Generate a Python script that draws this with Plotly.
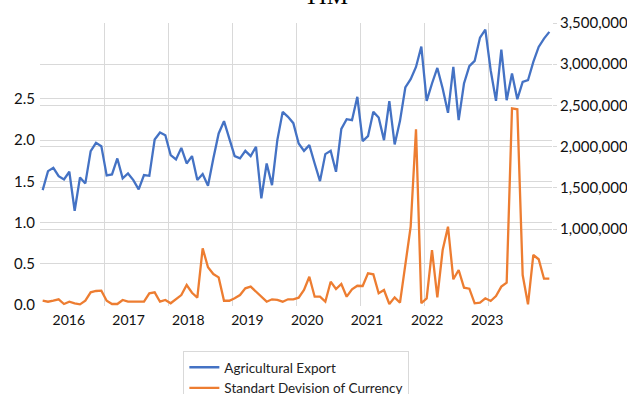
import plotly.graph_objects as go

# ---- data (monthly, 2016-2023) ----
months = [f"{y}-{m:02d}" for y in range(2016, 2024) for m in range(1, 13)]

agri_export = [
    1473000, 1703000, 1743000, 1642000, 1602000, 1695000, 1222000, 1627000, 1554000, 1945000, 2046000, 2006000,
    1651000, 1663000, 1857000, 1615000, 1675000, 1594000, 1481000, 1655000, 1646000, 2087000, 2172000, 2139000,
    1897000, 1845000, 1985000, 1796000, 1885000, 1594000, 1667000, 1525000, 1857000, 2160000, 2309000, 2099000,
    1885000, 1857000, 1949000, 1885000, 1998000, 1372000, 1796000, 1533000, 2079000, 2422000, 2361000, 2285000,
    2039000, 1949000, 2018000, 1796000, 1582000, 1909000, 1949000, 1695000, 2216000, 2333000, 2321000, 2604000,
    2067000, 2127000, 2422000, 2354000, 2079000, 2552000, 2027000, 2313000, 2718000, 2818000, 2967000, 3214000,
    2555000, 2766000, 2955000, 2705000, 2410000, 2967000, 2321000, 2766000, 2976000, 3040000, 3323000, 3420000,
    2927000, 2555000, 3178000, 2564000, 2887000, 2576000, 2786000, 2806000, 3028000, 3210000, 3311000, 3392000,
]

currency_sd = [
    0.052, 0.040, 0.052, 0.069, 0.012, 0.040, 0.021, 0.008, 0.052, 0.154, 0.170, 0.174,
    0.052, 0.012, 0.012, 0.061, 0.040, 0.040, 0.040, 0.040, 0.142, 0.154, 0.040, 0.061,
    0.021, 0.069, 0.121, 0.243, 0.149, 0.089, 0.688, 0.458, 0.376, 0.335, 0.052, 0.052,
    0.081, 0.121, 0.202, 0.223, 0.162, 0.101, 0.040, 0.069, 0.061, 0.040, 0.069, 0.069,
    0.089, 0.182, 0.343, 0.101, 0.101, 0.040, 0.283, 0.194, 0.255, 0.101, 0.190, 0.234,
    0.231, 0.385, 0.372, 0.142, 0.182, 0.012, 0.093, 0.028, 0.506, 0.950, 2.132, 0.021,
    0.081, 0.667, 0.093, 0.667, 0.950, 0.312, 0.425, 0.210, 0.198, 0.021, 0.028, 0.081,
    0.049, 0.109, 0.223, 0.271, 2.387, 2.375, 0.364, 0.008, 0.607, 0.555, 0.319, 0.319,
]

year_labels = ["2016", "2017", "2018", "2019", "2020", "2021", "2022", "2023"]
year_label_pos = [4.9, 16.1, 27.3, 38.4, 49.6, 60.8, 72.1, 83.35]

left_ticks = [0.0, 0.5, 1.0, 1.5, 2.0, 2.5]
right_ticks = [1000000, 1500000, 2000000, 2500000, 3000000, 3500000]

idx = list(range(len(months)))
grid_x = [12 * k - 0.5 for k in range(1, 8)]

FONT = "Lato, 'Liberation Sans', Arial, sans-serif"
GRID = "#d9d9d9"

fig = go.Figure()
fig.add_trace(go.Scatter(
    x=idx, y=agri_export, name="Agricultural Export", mode="lines",
    line=dict(color="#4472C4", width=2.3), yaxis="y2", text=months,
))
fig.add_trace(go.Scatter(
    x=idx, y=currency_sd, name="Standart Devision of Currency", mode="lines",
    line=dict(color="#ED7D31", width=2.3), yaxis="y", text=months,
))

xr = [-0.5, len(months) - 0.5]
fig.update_layout(
    width=627, height=394,
    margin=dict(l=40, r=75, t=23, b=88, autoexpand=False),
    paper_bgcolor="white", plot_bgcolor="white",
    showlegend=True,
    legend=dict(
        x=0.28, y=-0.159, xanchor="left", yanchor="top",
        bordercolor=GRID, borderwidth=1,
        font=dict(family=FONT, size=13.5, color="#222"),
        bgcolor="white",
    ),
    xaxis=dict(
        range=xr, tickmode="array", tickvals=year_label_pos, ticktext=year_labels,
        showgrid=False, zeroline=False, showline=False, ticks="",
        ticklabelstandoff=4,
        tickfont=dict(family=FONT, size=14, color="#111"),
        minor=dict(tickmode="array", tickvals=grid_x, showgrid=True,
                   gridcolor=GRID, gridwidth=1, ticks=""),
    ),
    yaxis=dict(
        range=[-0.012, 3.422], tickmode="array", tickvals=left_ticks,
        tickformat=".1f", showgrid=True, gridcolor=GRID, gridwidth=1,
        zeroline=False, showline=False, ticks="", ticklabelstandoff=4,
        tickfont=dict(family=FONT, size=15, color="#111"),
    ),
    yaxis2=dict(
        range=[66667, 3500000], overlaying="y", side="right", anchor="x",
        tickmode="array", tickvals=right_ticks, tickformat=",d",
        showgrid=True, gridcolor=GRID, gridwidth=1, zeroline=False, showline=False,
        ticks="outside", ticklen=4, tickcolor=GRID,
        tickfont=dict(family=FONT, size=15, color="#111"),
    ),
    annotations=[dict(
        text="TIM", xref="paper", yref="paper", x=0.559, y=1, xanchor="center",
        yanchor="bottom", yshift=12, showarrow=False,
        font=dict(family="'Liberation Serif', 'Times New Roman', serif", size=24, color="#000"),
    )],
)

fig.write_html("out.html")
